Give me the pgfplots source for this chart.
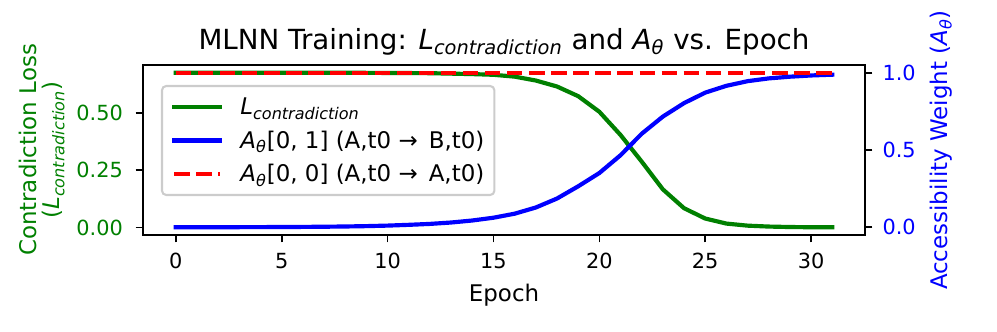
\documentclass[border=0pt]{standalone}
\usepackage{fontspec}
\setmainfont{DejaVu Sans}
\usepackage{pgfplots}
\pgfplotsset{compat=1.18}
\definecolor{mplgreen}{HTML}{008000}
\definecolor{mplblue}{HTML}{0000FF}
\definecolor{mplred}{HTML}{FF0000}
\newcommand{\Lc}{\textit{L}\textsubscript{\textit{contradiction}}}
\newcommand{\At}{\textit{A}\textsubscript{\textit{θ}}}

\pgfplotsset{
  mplbase/.style={
    scale only axis, width=346.6pt, height=81.6pt,
    at={(0pt,0pt)}, anchor=south west,
    xmin=-1.55, xmax=32.55,
    axis line style={line width=0.8pt},
    tick align=outside, major tick length=3.5pt,
    major tick style={black, line width=0.8pt},
    tick label style={font=\fontsize{10}{12}\selectfont, inner sep=0pt},
    /pgf/number format/assume math mode=true,
    label style={font=\fontsize{11}{11.2}\selectfont},
  }
}

\begin{document}
\begin{tikzpicture}
% left axis: loss
\begin{axis}[mplbase,
  ymin=-0.0327, ymax=0.7077,
  xtick={0,5,...,30}, ytick={0,0.25,0.5},
  tick pos=left,
  yticklabel style={text=mplgreen, anchor=east, xshift=-6pt,
    /pgf/number format/.cd, fixed, fixed zerofill, precision=2},
  xticklabel style={anchor=north, yshift=-5.1pt},
  title={MLNN Training: \Lc\ and \At\ vs. Epoch},
  title style={at={(axis description cs:0.5,1.015)}, anchor=base, yshift=0pt,
    font=\fontsize{13.3}{15}\selectfont},
  xlabel={Epoch},
  xlabel style={at={(axis description cs:0.5,-0.3885)}, anchor=base},
  ylabel={Contradiction Loss\\(\Lc)},
  ylabel style={at={(axis description cs:-0.140,0.5)}, anchor=center,
    align=center, text=mplgreen},
]
\addplot[mplgreen, line width=2pt, line cap=rect, line join=round] coordinates {
  (0,0.674) (1,0.674) (2,0.674) (3,0.674) (4,0.674) (5,0.674) (6,0.674) (7,0.674)
  (8,0.674) (9,0.6735) (10,0.673) (11,0.6725) (12,0.672) (13,0.670) (14,0.668)
  (15,0.665) (16,0.657) (17,0.640) (18,0.614) (19,0.572) (20,0.504) (21,0.403)
  (22,0.287) (23,0.166) (24,0.084) (25,0.039) (26,0.017) (27,0.008) (28,0.004)
  (29,0.002) (30,0.001) (31,0.001)};
\end{axis}
% right axis: accessibility weights
\begin{axis}[mplbase,
  ymin=-0.0497, ymax=1.0497,
  hide x axis, axis y line*=right,
  ytick={0,0.5,1},
  yticklabel style={text=mplblue, anchor=west, xshift=4.7pt,
    /pgf/number format/.cd, fixed, fixed zerofill, precision=1},
  ylabel={Accessibility Weight (\At)},
  ylabel style={at={(axis description cs:1.105,0.5)}, anchor=center, text=mplblue},
  legend style={at={(axis description cs:0.0249,0.8824)}, anchor=north west,
    draw=black!20, line width=1pt, fill=white, fill opacity=0.8, text opacity=1,
    rounded corners=2pt, inner xsep=4.8pt, inner ysep=3.4pt,
    /tikz/row sep=2.5pt, /tikz/column sep=8.8pt,
    font=\fontsize{11}{13}\selectfont,
    nodes={inner sep=0pt, text height=10.5pt, text depth=3pt}},
  legend cell align=left,
  legend image code/.code={\draw[#1] (0pt,0pt) -- (22pt,0pt);},
]
\addlegendimage{mplgreen, line width=2pt, line cap=rect}
\addlegendentry{\Lc}
\addplot[mplblue, line width=2pt, line cap=rect, line join=round] coordinates {
  (0,0.0003) (1,0.0004) (2,0.0006) (3,0.0009) (4,0.0013) (5,0.0018) (6,0.0026)
  (7,0.0037) (8,0.0053) (9,0.0076) (10,0.011) (11,0.016) (12,0.022) (13,0.031)
  (14,0.044) (15,0.062) (16,0.088) (17,0.128) (18,0.186) (19,0.265) (20,0.351)
  (21,0.466) (22,0.605) (23,0.716) (24,0.803) (25,0.871) (26,0.915) (27,0.945)
  (28,0.963) (29,0.974) (30,0.982) (31,0.987)};
\addlegendentry{\At[0, 1] (A,t0 → \,B,t0)}
\addplot[mplred, line width=2pt, dash pattern=on 7.4pt off 3.2pt] coordinates {
  (0,1) (31,1)};
\addlegendentry{\At[0, 0] (A,t0 → \,A,t0)}
\end{axis}
\pgfresetboundingbox
\path[use as bounding box] (-68.64pt,-46.56pt) rectangle (409.92pt,112.8pt);
\end{tikzpicture}
\end{document}
